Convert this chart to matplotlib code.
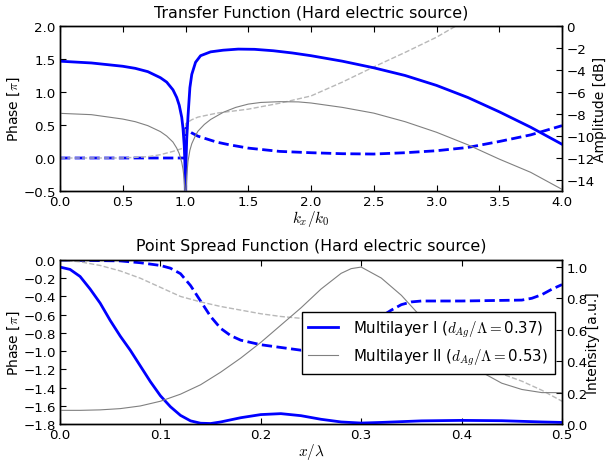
import numpy as np
import matplotlib
matplotlib.use('Agg')
import matplotlib.pyplot as plt

plt.rcParams['mathtext.fontset'] = 'cm'
plt.rcParams['xtick.direction'] = 'in'
plt.rcParams['ytick.direction'] = 'in'
plt.rcParams['xtick.top'] = True
plt.rcParams['xtick.major.size'] = 4
plt.rcParams['ytick.major.size'] = 4
plt.rcParams['xtick.major.pad'] = 3
plt.rcParams['ytick.major.pad'] = 3
plt.rcParams['axes.linewidth'] = 1.0

# transfer function: k_x/k_0 grid per curve
k_amp1 = [0, 0.25, 0.5, 0.6, 0.7, 0.8, 0.85, 0.9, 0.93, 0.95, 0.97, 0.98, 0.99, 0.995, 1.0,
          1.005, 1.01, 1.02, 1.035, 1.05, 1.08, 1.12, 1.2, 1.3, 1.42, 1.55, 1.7, 1.85, 2.0,
          2.25, 2.5, 2.75, 3.0, 3.25, 3.5, 3.75, 4.0]
amp1 = [-3.2, -3.36, -3.66, -3.85, -4.15, -4.7, -5.1, -5.8, -6.5, -7.2, -8.3, -9.3, -10.9, -12.4, -16,
        -12.0, -10.2, -8.2, -5.6, -4.4, -3.3, -2.7, -2.35, -2.2, -2.1, -2.12, -2.25, -2.45, -2.7,
        -3.2, -3.8, -4.5, -5.4, -6.5, -7.8, -9.2, -10.75]

k_amp2 = [0, 0.25, 0.5, 0.6, 0.7, 0.8, 0.85, 0.9, 0.93, 0.95, 0.97, 0.98, 0.99, 1.0, 1.01,
          1.02, 1.035, 1.05, 1.08, 1.1, 1.15, 1.2, 1.3, 1.4, 1.5, 1.6, 1.75, 1.9, 2.0, 2.25,
          2.5, 2.75, 3.0, 3.25, 3.5, 3.75, 4.0]
amp2 = [-7.94, -8.06, -8.46, -8.7, -9.06, -9.6, -10.0, -10.55, -11.1, -11.6, -12.4, -13.0, -14.0, -16, -13.6,
        -12.3, -11.3, -10.7, -9.95, -9.55, -8.95, -8.5, -7.85, -7.4, -7.1, -6.95, -6.88, -6.9, -7.0, -7.4,
        -7.92, -8.7, -9.66, -10.8, -12.1, -13.3, -14.85]

k_ph1 = [0, 0.5, 0.9, 0.999, 1.001, 1.02, 1.05, 1.1, 1.15, 1.25, 1.35, 1.5, 1.75, 2.0, 2.25,
         2.5, 2.75, 3.0, 3.25, 3.5, 3.75, 4.0]
ph1 = [0.0, 0.0, 0.0, 0.0, 0.45, 0.42, 0.38, 0.33, 0.30, 0.24, 0.20, 0.15, 0.10, 0.08, 0.065,
       0.06, 0.08, 0.11, 0.16, 0.25, 0.35, 0.49]

k_ph2 = [0, 0.5, 0.7, 0.8, 0.9, 0.95, 0.999, 1.001, 1.05, 1.1, 1.25, 1.5, 1.75, 2.0, 2.25,
         2.5, 2.75, 3.0, 3.2]
ph2 = [0.0, 0.0, 0.02, 0.05, 0.10, 0.13, 0.16, 0.52, 0.58, 0.62, 0.68, 0.74, 0.83, 0.94, 1.15,
       1.38, 1.6, 1.83, 2.05]

# point spread function: x/lambda
x_int1 = [0, 0.01, 0.02, 0.03, 0.04, 0.05, 0.06, 0.07, 0.08, 0.09, 0.10, 0.11, 0.12, 0.13, 0.14,
          0.15, 0.16, 0.18, 0.20, 0.22, 0.24, 0.26, 0.28, 0.30, 0.32, 0.36, 0.40, 0.44, 0.48, 0.50]
int1 = [1.0, 0.985, 0.94, 0.86, 0.77, 0.66, 0.56, 0.47, 0.37, 0.27, 0.18, 0.11, 0.055, 0.02, 0.005,
        0.003, 0.013, 0.04, 0.06, 0.066, 0.053, 0.03, 0.013, 0.006, 0.01, 0.02, 0.023, 0.021, 0.013, 0.01]

x_int2 = [0, 0.02, 0.04, 0.06, 0.08, 0.10, 0.12, 0.14, 0.16, 0.18, 0.20, 0.22, 0.24, 0.26, 0.28,
          0.29, 0.30, 0.32, 0.34, 0.36, 0.38, 0.40, 0.42, 0.44, 0.46, 0.48, 0.50]
int2 = [0.087, 0.087, 0.09, 0.098, 0.115, 0.145, 0.19, 0.25, 0.33, 0.42, 0.52, 0.63, 0.74, 0.86, 0.96,
        0.99, 1.0, 0.93, 0.82, 0.68, 0.54, 0.42, 0.33, 0.26, 0.22, 0.20, 0.20]

x_psf_ph1 = [0, 0.06, 0.08, 0.10, 0.11, 0.12, 0.13, 0.14, 0.15, 0.16, 0.17, 0.18, 0.20, 0.22, 0.24,
             0.26, 0.28, 0.30, 0.32, 0.33, 0.34, 0.35, 0.36, 0.40, 0.46, 0.47, 0.48, 0.49, 0.50]
psf_ph1 = [0.0, -0.01, -0.03, -0.06, -0.09, -0.15, -0.28, -0.45, -0.62, -0.75, -0.83, -0.88, -0.93, -0.96, -0.99,
           -0.98, -0.9, -0.78, -0.62, -0.55, -0.49, -0.46, -0.45, -0.45, -0.44, -0.42, -0.38, -0.32, -0.27]

x_psf_ph2 = [0, 0.02, 0.04, 0.06, 0.08, 0.10, 0.12, 0.14, 0.16, 0.18, 0.20, 0.22, 0.24, 0.26, 0.30,
             0.34, 0.38, 0.42, 0.44, 0.46, 0.48, 0.50]
psf_ph2 = [0.0, -0.02, -0.06, -0.12, -0.2, -0.3, -0.4, -0.46, -0.51, -0.55, -0.59, -0.62, -0.64, -0.65, -0.68,
           -0.8, -0.95, -1.12, -1.25, -1.33, -1.43, -1.55]

label1 = r'Multilayer I ($d_{Ag}/\Lambda=$0.37)'
label2 = r'Multilayer II ($d_{Ag}/\Lambda=$0.53)'

c1 = 'b'
c2_solid = '0.5'
c2_dash = '0.72'
fs_tick = 9.6
fs_lab = 10
fs_title = 11.4

fig = plt.figure(figsize=(6.08, 4.64), dpi=100)
fig.patch.set_facecolor('white')

# --- transfer function ---
ax1 = fig.add_axes([60/608, 1-192/464, 502/608, 165/464])
ax1.plot(k_ph1, ph1, '--', color=c1, lw=2)
ax1.plot(k_ph2, ph2, '--', color=c2_dash, lw=1)
ax1.set_xlim(0, 4)
ax1.set_ylim(-0.5, 2.0)
ax1.set_xticks(np.arange(0, 4.01, 0.5))
ax1.set_yticks(np.arange(-0.5, 2.01, 0.5))
ax1.set_ylabel(r'Phase [$\pi$]', fontsize=fs_lab, labelpad=1)
ax1.set_xlabel(r'$k_x/k_0$', fontsize=fs_lab + 1, labelpad=0)
ax1.set_title('Transfer Function (Hard electric source)', fontsize=fs_title, pad=7)
ax1.tick_params(labelsize=fs_tick)

ax2 = ax1.twinx()
ax2.plot(k_amp1, amp1, '-', color=c1, lw=2)
ax2.plot(k_amp2, amp2, '-', color=c2_solid, lw=0.8)
ax2.set_ylim(-15, 0)
ax2.set_yticks(np.arange(-14, 0.1, 2))
ax2.set_ylabel('Amplitude [dB]', fontsize=fs_lab, labelpad=-1)
ax2.tick_params(labelsize=fs_tick, direction='in')

# --- point spread function ---
ax3 = fig.add_axes([60/608, 1-425/464, 502/608, 164/464])
ax3.plot(x_psf_ph1, psf_ph1, '--', color=c1, lw=2)
ax3.plot(x_psf_ph2, psf_ph2, '--', color=c2_dash, lw=1)
ax3.set_xlim(0, 0.5)
ax3.set_ylim(-1.8, 0)
ax3.set_xticks(np.arange(0, 0.51, 0.1))
ax3.set_yticks(np.arange(-1.8, 0.01, 0.2))
ax3.set_ylabel(r'Phase [$\pi$]', fontsize=fs_lab, labelpad=1)
ax3.set_xlabel(r'$x/\lambda$', fontsize=fs_lab + 1, labelpad=0)
ax3.set_title('Point Spread Function (Hard electric source)', fontsize=fs_title, pad=7)
ax3.tick_params(labelsize=fs_tick)

ax4 = ax3.twinx()
ax4.plot(x_int1, int1, '-', color=c1, lw=2, label=label1)
ax4.plot(x_int2, int2, '-', color=c2_solid, lw=0.8, label=label2)
ax4.set_ylim(0, 1.045)
ax4.set_yticks(np.arange(0, 1.01, 0.2))
ax4.set_ylabel('Intensity [a.u.]', fontsize=fs_lab, labelpad=-1)
ax4.tick_params(labelsize=fs_tick, direction='in')
leg = ax4.legend(loc='upper right', bbox_to_anchor=(0.986, 0.683), fontsize=10.8,
                 fancybox=False, framealpha=1, edgecolor='black', handlelength=2.0,
                 handletextpad=1.0, borderpad=0.45, borderaxespad=0)
leg.get_frame().set_linewidth(1.0)

fig.savefig('out.png', dpi=100, facecolor='white')
